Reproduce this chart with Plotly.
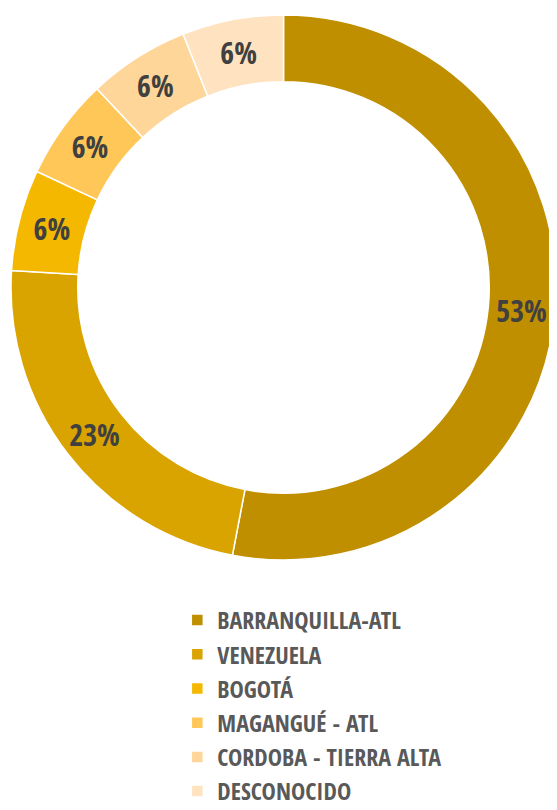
import plotly.graph_objects as go

# ── Datos ────────────────────────────────────────────────────────────────────
procedencia = [
    "BARRANQUILLA-ATL",
    "VENEZUELA",
    "BOGOTÁ",
    "MAGANGUÉ - ATL",
    "CORDOBA - TIERRA ALTA",
    "DESCONOCIDO",
]
porcentaje = [53, 23, 6, 6, 6, 6]

colores = ["#BF8F00", "#D9A400", "#F4B800", "#FFC758", "#FFD699", "#FFE3C0"]

FUENTE = "Open Sans Condensed, Roboto Condensed, sans-serif"

# la página deja 8 px de margen en el body: se compensa en el dominio
fig = go.Figure(go.Pie(
    labels=procedencia,
    values=porcentaje,
    hole=0.755,
    sort=False,
    direction="clockwise",
    rotation=0,
    marker=dict(colors=colores, line=dict(color="white", width=1.5)),
    texttemplate="%{value}%",
    textposition="inside",
    insidetextorientation="horizontal",
    textfont=dict(family=FUENTE, size=30, color="#404040", weight="bold"),
    domain=dict(x=[3 / 557, 548 / 557], y=[258 / 810, 803 / 810]),
    hoverinfo="label+percent",
))

fig.update_layout(
    width=557,
    height=810,
    paper_bgcolor="white",
    plot_bgcolor="white",
    margin=dict(l=0, r=0, t=0, b=0),
    showlegend=True,
    legend=dict(
        x=0.304,
        y=0.2716,
        xanchor="left",
        yanchor="top",
        font=dict(family=FUENTE, size=24, color="#595959", weight="bold"),
        bgcolor="rgba(0,0,0,0)",
    ),
)

fig.write_html("out.html")
